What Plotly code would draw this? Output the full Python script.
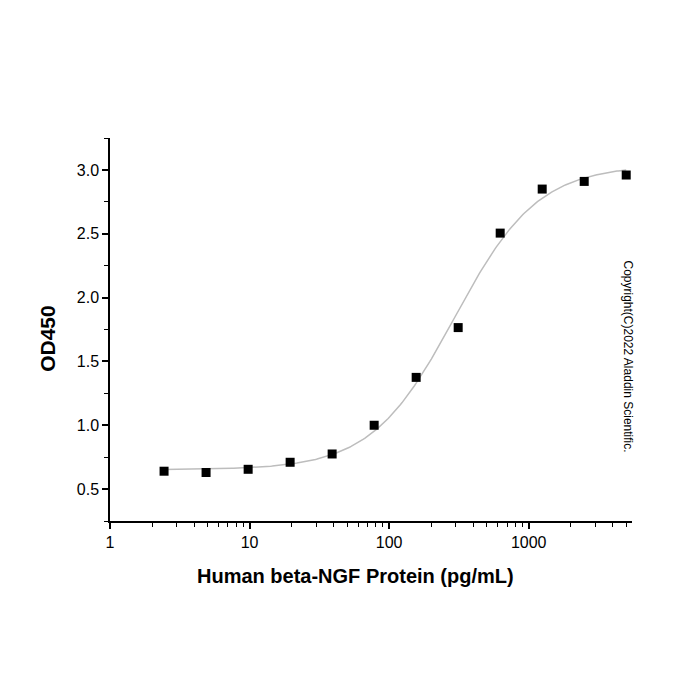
import numpy as np
import plotly.graph_objects as go

# Data
concentration = [2.44, 4.88, 9.77, 19.53, 39.06, 78.13, 156.25, 312.5, 625, 1250, 2500, 5000]
od450 = [0.64, 0.63, 0.655, 0.71, 0.775, 1.00, 1.375, 1.765, 2.505, 2.85, 2.91, 2.96]

x_tick_vals = [1, 10, 100, 1000]
x_tick_text = ["1", "10", "100", "1000"]
y_tick_vals = [0.5, 1.0, 1.5, 2.0, 2.5, 3.0]

x_title = "Human beta-NGF Protein (pg/mL)"
y_title = "OD450"
copyright_text = "Copyright(C)2022 Aladdin Scientific."

# 4-parameter logistic fit of the data (least squares, Levenberg-Marquardt)
lx = np.log10(np.array(concentration, dtype=float))
yy = np.array(od450, dtype=float)


def model(p, t):
    a, d, c, b = p
    return d + (a - d) / (1.0 + 10.0 ** (b * (t - c)))


p = np.array([0.64, 3.0, 2.45, 1.4])
lam = 1e-3
for _ in range(300):
    r = yy - model(p, lx)
    J = np.zeros((len(lx), 4))
    for k in range(4):
        dp = np.zeros(4)
        dp[k] = 1e-6
        J[:, k] = (model(p + dp, lx) - model(p - dp, lx)) / 2e-6
    A = J.T @ J
    g = J.T @ r
    step = np.linalg.solve(A + lam * np.diag(np.diag(A)), g)
    pn = p + step
    if np.sum((yy - model(pn, lx)) ** 2) < np.sum(r ** 2):
        p = pn
        lam *= 0.5
    else:
        lam *= 4
curve_lx = np.linspace(lx.min(), lx.max(), 300)
curve_x = 10 ** curve_lx
curve_y = model(p, curve_lx)

font_family = "Liberation Sans, Arial, sans-serif"

fig = go.Figure()
fig.add_trace(go.Scatter(
    x=curve_x, y=curve_y, mode="lines",
    line=dict(color="#bdbdbd", width=1.5),
    hoverinfo="skip", showlegend=False,
))
fig.add_trace(go.Scatter(
    x=concentration, y=od450, mode="markers",
    marker=dict(symbol="square", size=9, color="black"),
    showlegend=False,
))

fig.update_layout(
    width=700, height=700,
    margin=dict(l=110, r=68, t=138, b=179),
    paper_bgcolor="white", plot_bgcolor="white",
    font=dict(family=font_family, color="black", size=16),
    showlegend=False,
)

fig.update_xaxes(
    type="log", range=[0, np.log10(5500)],
    showline=True, linecolor="black", linewidth=1.5,
    showgrid=False, zeroline=False,
    ticks="outside", ticklen=6, tickwidth=1.5, tickcolor="black",
    tickvals=x_tick_vals, ticktext=x_tick_text,
    tickfont=dict(size=16, family=font_family, color="black"),
    minor=dict(ticks="outside", ticklen=4, tickwidth=1.2, tickcolor="black", dtick="D1", showgrid=False),
)
fig.update_yaxes(
    range=[0.25, 3.25],
    showline=True, linecolor="black", linewidth=1.5,
    showgrid=False, zeroline=False,
    ticks="outside", ticklen=6, tickwidth=1.5, tickcolor="black",
    tickvals=y_tick_vals, tickformat=".1f",
    tickfont=dict(size=16, family=font_family, color="black"),
    minor=dict(ticks="outside", ticklen=4, tickwidth=1.2, tickcolor="black", dtick=0.25, tick0=0.25, showgrid=False),
)

# Axis titles (placed as annotations to match the reference position)
fig.add_annotation(
    text="<b>" + x_title + "</b>",
    xref="paper", yref="paper", x=0.471, y=-0.1436,
    showarrow=False, xanchor="center", yanchor="middle",
    font=dict(size=20, family=font_family, color="black"),
)
fig.add_annotation(
    text="<b>" + y_title + "</b>", textangle=-90,
    xref="paper", yref="paper", x=-0.119, y=0.478,
    showarrow=False, xanchor="center", yanchor="middle",
    font=dict(size=21, family=font_family, color="black"),
)

fig.add_annotation(
    text=copyright_text, textangle=90,
    xref="paper", yref="paper", x=0.992, y=0.43,
    showarrow=False, xanchor="center", yanchor="middle",
    font=dict(size=12, family=font_family, color="black"),
)

fig.write_html("out.html")
